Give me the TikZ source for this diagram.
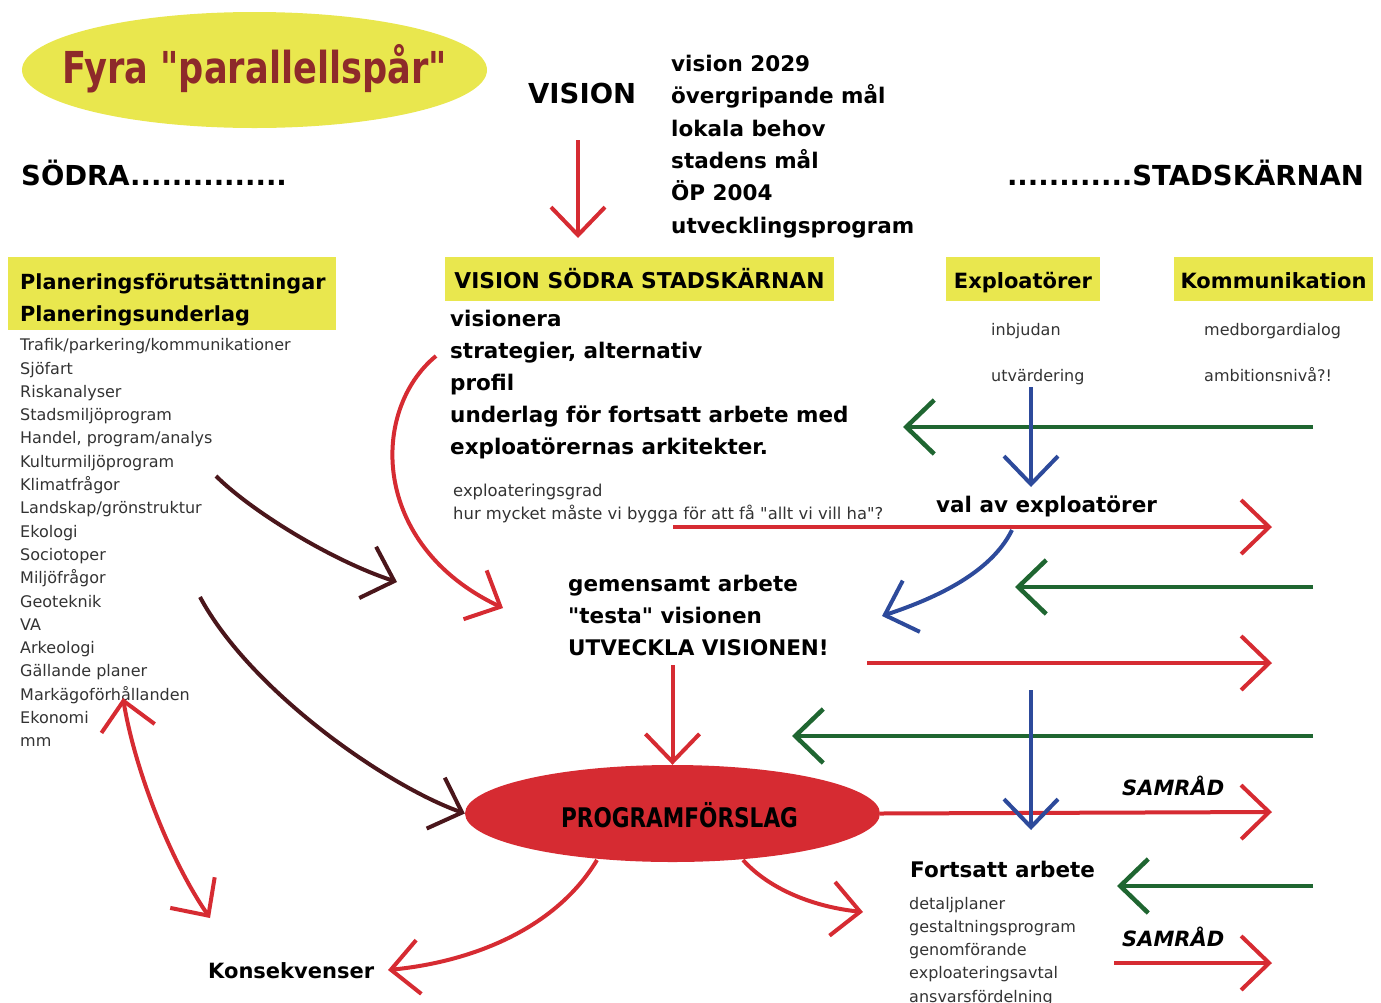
\documentclass[tikz,border=0pt]{standalone}
\usepackage{fontspec}
\setmainfont{DejaVu Sans}[Ligatures=TeXOff]
\newfontfamily\narrowfont{DejaVu Sans}[FakeStretch=0.8,Ligatures=TeXOff]
\usetikzlibrary{arrows.meta,shapes.geometric}
\definecolor{cred}{HTML}{D62B32}
\definecolor{cgreen}{HTML}{1F6631}
\definecolor{cblue}{HTML}{2D4A9B}
\definecolor{cbrown}{HTML}{4A161B}
\definecolor{cyellow}{HTML}{E9E74E}
\definecolor{ctitle}{HTML}{8E2A2A}
\definecolor{dgray}{HTML}{333333}
\begin{document}
\begin{tikzpicture}[x=1pt,y=-1pt,
  txt/.style={inner sep=0pt, anchor=base west},
  smalltxt/.style={txt, font=\fontsize{16}{19}\selectfont, text=dgray},
  boldtxt/.style={txt, font=\fontsize{21.5}{32}\selectfont\bfseries},
  headtxt/.style={txt, font=\fontsize{27.5}{32}\selectfont\bfseries},
  samrad/.style={txt, font=\fontsize{21}{26}\selectfont\bfseries\itshape},
  ybox/.style={fill=cyellow, inner sep=0pt, text height=20pt, text depth=2pt},
  arrowbase/.style={line width=4pt, -{Straight Barb[length=28pt,width=54pt]}},
  redarr/.style={arrowbase, draw=cred},
  greenarr/.style={arrowbase, draw=cgreen, line width=4.5pt},
  bluearr/.style={arrowbase, draw=cblue},
  brownarr/.style={arrowbase, draw=cbrown},
  twoway/.style={line width=4pt, draw=cred, {Straight Barb[length=28pt,width=54pt]}-{Straight Barb[length=28pt,width=54pt]}}
]
\path[use as bounding box] (0,0) rectangle (1381,1002);

% title
\node[ellipse, fill=cyellow, minimum width=465pt, minimum height=116pt, inner sep=0pt] (titleell) at (254.5,70) {};
\node[inner sep=0pt, anchor=base, text=ctitle, font=\narrowfont\bfseries\fontsize{44}{50}\selectfont] (title) at (254.5,83) {Fyra "parallellspår"};

% headings
\node[headtxt] (sodra) at (21,185) {SÖDRA...............};
\node[headtxt] (vision) at (528,103) {VISION};
\node[headtxt, anchor=base east] (karnan) at (1364,185) {............STADSKÄRNAN};

\foreach [count=\i from 0] \t in {vision 2029, övergripande mål, lokala behov, stadens mål, ÖP 2004, utvecklingsprogram}
  \node[boldtxt] (vl\i) at (671,71.5+32.3*\i) {\t};

\coordinate (visA) at (578,140);
\coordinate (visB) at (578,238);
\draw[redarr] (visA) -- (visB);

% yellow boxes
\node[fill=cyellow, inner sep=0pt, minimum width=328pt, minimum height=73pt] (plan) at (172,293.5) {};
\node[boldtxt, font=\fontsize{20.8}{32}\selectfont\bfseries] (plan1) at (20,289) {Planeringsförutsättningar};
\node[boldtxt, font=\fontsize{20.8}{32}\selectfont\bfseries] (plan2) at (20,321) {Planeringsunderlag};
\node[ybox, minimum width=389pt, minimum height=44pt, font=\fontsize{21.8}{26}\selectfont\bfseries] (vsod) at (639.5,279) {VISION SÖDRA STADSKÄRNAN};
\node[ybox, minimum width=154pt, minimum height=44pt, font=\fontsize{21}{26}\selectfont\bfseries] (expl) at (1023,279) {Exploatörer};
\node[ybox, minimum width=199pt, minimum height=44pt, font=\fontsize{21}{26}\selectfont\bfseries] (komm) at (1273.5,279) {Kommunikation};

% left list
\foreach [count=\i from 0] \t in {Trafik/parkering/kommunikationer, Sjöfart, Riskanalyser, Stadsmiljöprogram, {Handel, program/analys}, Kulturmiljöprogram, Klimatfrågor, Landskap/grönstruktur, Ekologi, Sociotoper, Miljöfrågor, Geoteknik, VA, Arkeologi, Gällande planer, Markägoförhållanden, Ekonomi, mm}
  \node[smalltxt] (ll\i) at (20,350.7+23.3*\i) {\t};

% centre list
\foreach [count=\i from 0] \t in {visionera, {strategier, alternativ}, profil, underlag för fortsatt arbete med, exploatörernas arkitekter.}
  \node[boldtxt] (cl\i) at (450,326+32*\i) {\t};
\node[smalltxt, font=\fontsize{16.4}{19}\selectfont] (grad) at (453,496) {exploateringsgrad};
\node[smalltxt, font=\fontsize{16.4}{19}\selectfont] (hur) at (453,519) {hur mycket måste vi bygga för att få "allt vi vill ha"?};

% right small texts
\node[smalltxt] (inbj) at (991,335) {inbjudan};
\node[smalltxt] (utv) at (991,381) {utvärdering};
\node[smalltxt] (medb) at (1204,335) {medborgardialog};
\node[smalltxt] (ambi) at (1204,381) {ambitionsnivå?!};

\node[boldtxt] (val) at (936,512) {val av exploatörer};

\node[boldtxt] (gem1) at (568,591) {gemensamt arbete};
\node[boldtxt] (gem2) at (568,623) {"testa" visionen};
\node[boldtxt] (gem3) at (568,655) {UTVECKLA VISIONEN!};

% programförslag
\node[ellipse, fill=cred, minimum width=415pt, minimum height=97pt, inner sep=0pt] (prog) at (672.5,813.5) {};
\node[inner sep=0pt, anchor=base, font=\narrowfont\bfseries\fontsize{27}{30}\selectfont] (progtxt) at (679.5,827) {PROGRAMFÖRSLAG};

\node[samrad] (sam1) at (1122,795) {SAMRÅD};
\node[samrad] (sam2) at (1122,946) {SAMRÅD};

\node[boldtxt] (forts) at (910,877) {Fortsatt arbete};
\foreach [count=\i from 0] \t in {detaljplaner, gestaltningsprogram, genomförande, exploateringsavtal, ansvarsfördelning}
  \node[smalltxt] (fl\i) at (909,909+23.3*\i) {\t};

\node[boldtxt, font=\fontsize{21}{26}\selectfont\bfseries] (kons) at (208,978) {Konsekvenser};

% coordinates for connectors
\coordinate (g1a) at (1313,427); \coordinate (g1b) at (903,427);
\coordinate (b1a) at (1031,387); \coordinate (b1b) at (1031,487);
\coordinate (r1a) at (673,527);  \coordinate (r1b) at (1272,527);
\coordinate (bca) at (1012,530); \coordinate (bcb) at (882,616);
\coordinate (g2a) at (1313,587); \coordinate (g2b) at (1015,587);
\coordinate (r2a) at (867,663);  \coordinate (r2b) at (1272,663);
\coordinate (g3a) at (1313,736); \coordinate (g3b) at (792,736);
\coordinate (b2a) at (1031,690); \coordinate (b2b) at (1031,830);
\coordinate (r3b) at (1272,812);
\coordinate (g4a) at (1313,886); \coordinate (g4b) at (1117,886);
\coordinate (r4a) at (1114,963); \coordinate (r4b) at (1272,963);
\coordinate (rda) at (672.5,665);
\coordinate (arcS) at (436,356); \coordinate (arcE) at (503,608);
\coordinate (br1a) at (216,476); \coordinate (br1b) at (397,582);
\coordinate (br2a) at (200,597);
\coordinate (dbA) at (123,698); \coordinate (dbB) at (210,918);
\coordinate (konsS) at (597,860); \coordinate (konsE) at (388,970);
\coordinate (fortS) at (743,860); \coordinate (fortE) at (863,912);

% straight arrows
\draw[greenarr] (g1a) -- (g1b);
\draw[bluearr] (b1a) -- (b1b);
\draw[redarr] (r1a) -- (r1b);
\draw[bluearr] (bca) .. controls (990,575) and (930,600) .. (bcb);
\draw[greenarr] (g2a) -- (g2b);
\draw[redarr] (r2a) -- (r2b);
\draw[greenarr] (g3a) -- (g3b);
\draw[redarr] (rda) -- (prog.north);
\draw[redarr] (prog.east) -- (r3b);
\draw[bluearr] (b2a) -- (b2b);
\draw[greenarr] (g4a) -- (g4b);
\draw[redarr] (r4a) -- (r4b);

% curved arrows
\draw[redarr] (arcS) .. controls (370,410) and (370,545) .. (arcE);
\draw[brownarr] (br1a) .. controls (250,510) and (330,560) .. (br1b);
\draw[brownarr] (br2a) .. controls (250,690) and (385,785) .. (prog.west);
\draw[twoway] (dbA) .. controls (135,770) and (170,860) .. (dbB);
\draw[redarr] (konsS) .. controls (555,930) and (470,962) .. (konsE);
\draw[redarr] (fortS) .. controls (770,890) and (815,907) .. (fortE);
\end{tikzpicture}
\end{document}
